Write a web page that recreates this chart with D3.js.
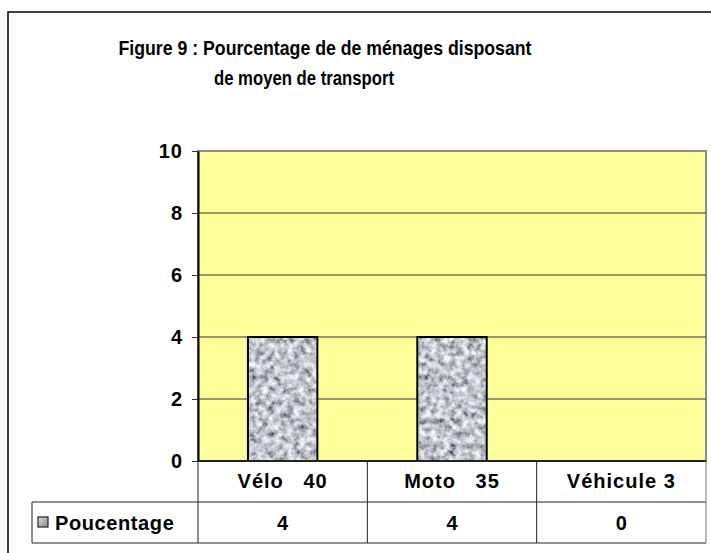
<!DOCTYPE html>
<html>
<head>
<meta charset="utf-8">
<script src="https://cdn.jsdelivr.net/npm/d3@7"></script>
<style>
  body { margin: 0; background: #fff; }
  text { font-family: "Liberation Sans", Arial, sans-serif; font-weight: bold; fill: #000; }
</style>
</head>
<body>
<script>
// data
var categories = ["Vélo   40", "Moto   35", "Véhicule 3"];
var values = [4, 4, 0];
var seriesName = "Poucentage";
var yTicks = [0, 2, 4, 6, 8, 10];
var titleLines = ["Figure 9 : Pourcentage de de ménages disposant", "de moyen de transport"];

var W = 711, H = 553;
var plot = {left: 198, right: 706, top: 151, bottom: 461};
var rowH = 41;

var svg = d3.select("body").append("svg")
    .attr("width", W)
    .attr("height", H);

// granite-like texture for the bars
var defs = svg.append("defs");
var filt = defs.append("filter").attr("id", "granite")
    .attr("x", 0).attr("y", 0).attr("width", 1).attr("height", 1);
filt.append("feTurbulence")
    .attr("type", "fractalNoise")
    .attr("baseFrequency", 0.16)
    .attr("numOctaves", 3)
    .attr("seed", 7)
    .attr("result", "noise");
filt.append("feColorMatrix")
    .attr("in", "noise")
    .attr("type", "matrix")
    .attr("values", "1.4 0 0 0 -0.16  1.4 0 0 0 -0.14  1.4 0 0 0 -0.1  0 0 0 0 1")
    .attr("result", "gray");
filt.append("feComposite")
    .attr("in", "gray").attr("in2", "SourceAlpha").attr("operator", "in");

var grad = defs.append("linearGradient").attr("id", "swatch")
    .attr("x1", 0).attr("y1", 0).attr("x2", 1).attr("y2", 1);
grad.append("stop").attr("offset", "0%").attr("stop-color", "#e0e0e0");
grad.append("stop").attr("offset", "100%").attr("stop-color", "#8a8a8a");

// outer chart frame
svg.append("path")
    .attr("d", "M8," + H + "V12H" + W)
    .attr("fill", "none")
    .attr("stroke", "#000")
    .attr("stroke-width", 1.5);

// title
var titlePos = [{cx: 325, len: 413}, {cx: 304, len: 180}];
svg.selectAll(".title").data(titleLines).enter().append("text")
    .attr("class", "title")
    .attr("x", function(d, i) { return titlePos[i].cx - titlePos[i].len / 2; })
    .attr("y", function(d, i) { return 55 + i * 30; })
    .attr("textLength", function(d, i) { return titlePos[i].len; })
    .attr("lengthAdjust", "spacingAndGlyphs")
    .style("font-size", "21px")
    .text(function(d) { return d; });

// scales
var x = d3.scaleBand().domain(categories).range([plot.left, plot.right])
    .paddingInner(0.59).paddingOuter(0.295);
var col = d3.scaleBand().domain(categories).range([plot.left, plot.right]);
var y = d3.scaleLinear().domain([0, 10]).range([plot.bottom, plot.top]);

// plot area
svg.append("rect")
    .attr("x", plot.left).attr("y", plot.top)
    .attr("width", plot.right - plot.left).attr("height", plot.bottom - plot.top)
    .attr("fill", "#ffff99")
    .attr("stroke", "#8c8c8c")
    .attr("stroke-width", 2);

// gridlines
svg.selectAll(".grid").data(yTicks.filter(function(d) { return d > 0 && d < 10; }))
  .enter().append("line")
    .attr("x1", plot.left).attr("x2", plot.right)
    .attr("y1", function(d) { return y(d); })
    .attr("y2", function(d) { return y(d); })
    .attr("stroke", "#333")
    .attr("stroke-width", 1);

// bars
svg.selectAll(".bar").data(values).enter().append("rect")
    .attr("class", "bar")
    .attr("x", function(d, i) { return x(categories[i]); })
    .attr("y", function(d) { return y(d); })
    .attr("width", x.bandwidth())
    .attr("height", function(d) { return y(0) - y(d); })
    .attr("fill", "#000")
    .attr("filter", "url(#granite)");
svg.selectAll(".barEdge").data(values).enter()
  .filter(function(d) { return d > 0; })
  .append("rect")
    .attr("x", function(d, i) { return x(categories[i]); })
    .attr("y", function(d) { return y(d); })
    .attr("width", x.bandwidth())
    .attr("height", function(d) { return y(0) - y(d); })
    .attr("fill", "none")
    .attr("stroke", "#000")
    .attr("stroke-width", 2);

// y axis
var yAxis = svg.append("g")
    .attr("transform", "translate(" + plot.left + ",0)")
    .call(d3.axisLeft(y).tickValues(yTicks).tickSize(6).tickSizeOuter(0).tickPadding(9)
        .tickFormat(d3.format("d")));
yAxis.select(".domain").attr("stroke", "#000").attr("stroke-width", 2);
yAxis.selectAll(".tick line").attr("stroke", "#333");
yAxis.selectAll(".tick text")
    .style("font-size", "20px")
    .style("font-family", "'Liberation Sans', Arial, sans-serif")
    .style("font-weight", "bold")
    .style("letter-spacing", "1px")
    .attr("fill", "#000");

// x axis line
svg.append("line")
    .attr("x1", plot.left).attr("x2", plot.right)
    .attr("y1", plot.bottom).attr("y2", plot.bottom)
    .attr("stroke", "#222").attr("stroke-width", 2);

// data table
var t0 = plot.bottom, t1 = t0 + rowH, t2 = t1 + rowH;
var tbl = svg.append("g").attr("stroke", "#222").attr("stroke-width", 1);
tbl.append("line").attr("x1", 32).attr("x2", plot.right).attr("y1", t1).attr("y2", t1);
tbl.append("line").attr("x1", 32).attr("x2", plot.right).attr("y1", t2).attr("y2", t2);
tbl.append("line").attr("x1", 32).attr("x2", 32).attr("y1", t1).attr("y2", t2);
tbl.selectAll(".vline").data(categories).enter().append("line")
    .attr("x1", function(d) { return col(d); })
    .attr("x2", function(d) { return col(d); })
    .attr("y1", t0).attr("y2", t2);
tbl.append("line").attr("x1", plot.right).attr("x2", plot.right)
    .attr("y1", t0).attr("y2", t2).attr("stroke", "#777");

svg.selectAll(".cat").data(categories).enter().append("text")
    .attr("x", function(d) { return col(d) + col.bandwidth() / 2; })
    .attr("y", t0 + 27)
    .attr("text-anchor", "middle")
    .style("font-size", "20px")
    .style("letter-spacing", "1px")
    .style("white-space", "pre")
    .text(function(d) { return d; });

svg.selectAll(".val").data(values).enter().append("text")
    .attr("x", function(d, i) { return col(categories[i]) + col.bandwidth() / 2; })
    .attr("y", t1 + 28)
    .attr("text-anchor", "middle")
    .style("font-size", "20px")
    .text(function(d) { return d; });

// legend key in the table
svg.append("rect")
    .attr("x", 38).attr("y", t1 + 15)
    .attr("width", 10).attr("height", 10)
    .attr("fill", "url(#swatch)")
    .attr("stroke", "#222").attr("stroke-width", 1.2);
svg.append("text")
    .attr("x", 55).attr("y", t1 + 28)
    .style("font-size", "20px")
    .style("letter-spacing", "0.6px")
    .text(seriesName);
</script>
</body>
</html>
